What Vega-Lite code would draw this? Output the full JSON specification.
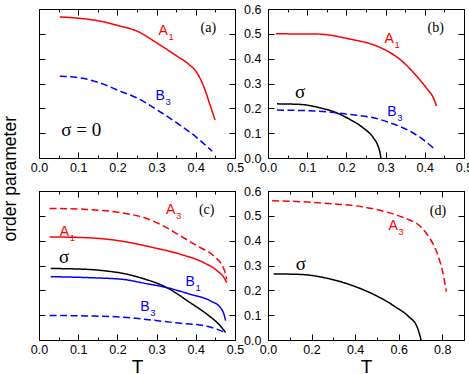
{
  "$schema": "https://vega.github.io/schema/vega-lite/v6.json",
  "padding": {"left": 2, "top": 2, "right": 5, "bottom": 2},
  "background": "white",
  "title": {"text": "order parameter", "orient": "left", "anchor": "middle", "font": "Liberation Sans", "fontSize": 17.5, "fontWeight": "normal", "color": "black", "offset": 10, "dx": 11},
  "columns": 2,
  "spacing": {"row": 33, "column": 33},
  "bounds": "flush",
  "config": {
    "view": {"stroke": "black", "strokeWidth": 1},
    "line": {"interpolate": "monotone", "strokeWidth": 1.5},
    "axis": {"grid": false, "domainColor": "black", "tickColor": "black", "labelColor": "black", "labelFont": "Liberation Sans", "labelFontSize": 12.5, "labelFlush": false, "labelOverlap": false, "titleFont": "Liberation Sans", "titleFontWeight": "normal", "titleColor": "black", "titleFontSize": 19, "titlePadding": 2, "labelPadding": 9},
    "axisY": {"labelPadding": 13}
  },
  "datasets": {
    "lines": [
      {"p": "a", "s": "A1", "T": 0.053, "v": 0.568},
      {"p": "a", "s": "A1", "T": 0.10, "v": 0.563},
      {"p": "a", "s": "A1", "T": 0.156, "v": 0.551},
      {"p": "a", "s": "A1", "T": 0.207, "v": 0.531},
      {"p": "a", "s": "A1", "T": 0.25, "v": 0.511},
      {"p": "a", "s": "A1", "T": 0.30, "v": 0.464},
      {"p": "a", "s": "A1", "T": 0.352, "v": 0.41},
      {"p": "a", "s": "A1", "T": 0.38, "v": 0.38},
      {"p": "a", "s": "A1", "T": 0.403, "v": 0.343},
      {"p": "a", "s": "A1", "T": 0.42, "v": 0.289},
      {"p": "a", "s": "A1", "T": 0.435, "v": 0.22},
      {"p": "a", "s": "A1", "T": 0.449, "v": 0.153},
      {"p": "a", "s": "B3", "T": 0.053, "v": 0.329},
      {"p": "a", "s": "B3", "T": 0.104, "v": 0.323},
      {"p": "a", "s": "B3", "T": 0.156, "v": 0.302},
      {"p": "a", "s": "B3", "T": 0.207, "v": 0.269},
      {"p": "a", "s": "B3", "T": 0.25, "v": 0.242},
      {"p": "a", "s": "B3", "T": 0.30, "v": 0.195},
      {"p": "a", "s": "B3", "T": 0.352, "v": 0.141},
      {"p": "a", "s": "B3", "T": 0.399, "v": 0.087},
      {"p": "a", "s": "B3", "T": 0.442, "v": 0.027},

      {"p": "b", "s": "A1", "T": 0.02, "v": 0.50},
      {"p": "b", "s": "A1", "T": 0.125, "v": 0.499},
      {"p": "b", "s": "A1", "T": 0.209, "v": 0.479},
      {"p": "b", "s": "A1", "T": 0.286, "v": 0.445},
      {"p": "b", "s": "A1", "T": 0.336, "v": 0.398},
      {"p": "b", "s": "A1", "T": 0.379, "v": 0.33},
      {"p": "b", "s": "A1", "T": 0.405, "v": 0.28},
      {"p": "b", "s": "A1", "T": 0.421, "v": 0.245},
      {"p": "b", "s": "A1", "T": 0.43, "v": 0.209},
      {"p": "b", "s": "sig", "T": 0.023, "v": 0.218},
      {"p": "b", "s": "sig", "T": 0.08, "v": 0.216},
      {"p": "b", "s": "sig", "T": 0.133, "v": 0.202},
      {"p": "b", "s": "sig", "T": 0.175, "v": 0.182},
      {"p": "b", "s": "sig", "T": 0.209, "v": 0.155},
      {"p": "b", "s": "sig", "T": 0.243, "v": 0.121},
      {"p": "b", "s": "sig", "T": 0.269, "v": 0.081},
      {"p": "b", "s": "sig", "T": 0.281, "v": 0.047},
      {"p": "b", "s": "sig", "T": 0.286, "v": 0.02},
      {"p": "b", "s": "sig", "T": 0.288, "v": 0.0},
      {"p": "b", "s": "B3", "T": 0.023, "v": 0.193},
      {"p": "b", "s": "B3", "T": 0.125, "v": 0.189},
      {"p": "b", "s": "B3", "T": 0.209, "v": 0.175},
      {"p": "b", "s": "B3", "T": 0.269, "v": 0.162},
      {"p": "b", "s": "B3", "T": 0.311, "v": 0.142},
      {"p": "b", "s": "B3", "T": 0.362, "v": 0.108},
      {"p": "b", "s": "B3", "T": 0.396, "v": 0.074},
      {"p": "b", "s": "B3", "T": 0.425, "v": 0.036},

      {"p": "c", "s": "A3", "T": 0.027, "v": 0.530},
      {"p": "c", "s": "A3", "T": 0.121, "v": 0.526},
      {"p": "c", "s": "A3", "T": 0.207, "v": 0.513},
      {"p": "c", "s": "A3", "T": 0.267, "v": 0.493},
      {"p": "c", "s": "A3", "T": 0.309, "v": 0.466},
      {"p": "c", "s": "A3", "T": 0.361, "v": 0.419},
      {"p": "c", "s": "A3", "T": 0.403, "v": 0.379},
      {"p": "c", "s": "A3", "T": 0.446, "v": 0.338},
      {"p": "c", "s": "A3", "T": 0.472, "v": 0.285},
      {"p": "c", "s": "A3", "T": 0.479, "v": 0.244},
      {"p": "c", "s": "A1", "T": 0.027, "v": 0.415},
      {"p": "c", "s": "A1", "T": 0.121, "v": 0.412},
      {"p": "c", "s": "A1", "T": 0.207, "v": 0.399},
      {"p": "c", "s": "A1", "T": 0.292, "v": 0.372},
      {"p": "c", "s": "A1", "T": 0.361, "v": 0.345},
      {"p": "c", "s": "A1", "T": 0.421, "v": 0.311},
      {"p": "c", "s": "A1", "T": 0.455, "v": 0.278},
      {"p": "c", "s": "A1", "T": 0.472, "v": 0.251},
      {"p": "c", "s": "A1", "T": 0.479, "v": 0.231},
      {"p": "c", "s": "sig", "T": 0.03, "v": 0.288},
      {"p": "c", "s": "sig", "T": 0.128, "v": 0.284},
      {"p": "c", "s": "sig", "T": 0.171, "v": 0.278},
      {"p": "c", "s": "sig", "T": 0.215, "v": 0.268},
      {"p": "c", "s": "sig", "T": 0.26, "v": 0.25},
      {"p": "c", "s": "sig", "T": 0.326, "v": 0.211},
      {"p": "c", "s": "sig", "T": 0.386, "v": 0.15},
      {"p": "c", "s": "sig", "T": 0.429, "v": 0.103},
      {"p": "c", "s": "sig", "T": 0.463, "v": 0.056},
      {"p": "c", "s": "sig", "T": 0.476, "v": 0.03},
      {"p": "c", "s": "B1", "T": 0.03, "v": 0.255},
      {"p": "c", "s": "B1", "T": 0.128, "v": 0.251},
      {"p": "c", "s": "B1", "T": 0.215, "v": 0.244},
      {"p": "c", "s": "B1", "T": 0.267, "v": 0.229},
      {"p": "c", "s": "B1", "T": 0.326, "v": 0.211},
      {"p": "c", "s": "B1", "T": 0.386, "v": 0.184},
      {"p": "c", "s": "B1", "T": 0.438, "v": 0.157},
      {"p": "c", "s": "B1", "T": 0.463, "v": 0.13},
      {"p": "c", "s": "B1", "T": 0.472, "v": 0.103},
      {"p": "c", "s": "B1", "T": 0.476, "v": 0.078},
      {"p": "c", "s": "B3", "T": 0.027, "v": 0.099},
      {"p": "c", "s": "B3", "T": 0.121, "v": 0.097},
      {"p": "c", "s": "B3", "T": 0.215, "v": 0.092},
      {"p": "c", "s": "B3", "T": 0.29, "v": 0.08},
      {"p": "c", "s": "B3", "T": 0.344, "v": 0.07},
      {"p": "c", "s": "B3", "T": 0.429, "v": 0.055},
      {"p": "c", "s": "B3", "T": 0.476, "v": 0.03},

      {"p": "d", "s": "A3", "T": 0.019, "v": 0.561},
      {"p": "d", "s": "A3", "T": 0.15, "v": 0.557},
      {"p": "d", "s": "A3", "T": 0.305, "v": 0.548},
      {"p": "d", "s": "A3", "T": 0.429, "v": 0.537},
      {"p": "d", "s": "A3", "T": 0.537, "v": 0.517},
      {"p": "d", "s": "A3", "T": 0.63, "v": 0.49},
      {"p": "d", "s": "A3", "T": 0.692, "v": 0.463},
      {"p": "d", "s": "A3", "T": 0.738, "v": 0.416},
      {"p": "d", "s": "A3", "T": 0.777, "v": 0.349},
      {"p": "d", "s": "A3", "T": 0.80, "v": 0.282},
      {"p": "d", "s": "A3", "T": 0.819, "v": 0.195},
      {"p": "d", "s": "sig", "T": 0.026, "v": 0.266},
      {"p": "d", "s": "sig", "T": 0.15, "v": 0.264},
      {"p": "d", "s": "sig", "T": 0.274, "v": 0.248},
      {"p": "d", "s": "sig", "T": 0.382, "v": 0.221},
      {"p": "d", "s": "sig", "T": 0.491, "v": 0.181},
      {"p": "d", "s": "sig", "T": 0.584, "v": 0.134},
      {"p": "d", "s": "sig", "T": 0.646, "v": 0.094},
      {"p": "d", "s": "sig", "T": 0.684, "v": 0.054},
      {"p": "d", "s": "sig", "T": 0.703, "v": 0.0}
    ],
    "labels": [
      {"p": "a", "k": "ab", "s": "A1", "t": "A", "sub": "1", "T": 0.305, "v": 0.497},
      {"p": "a", "k": "ab", "s": "B3", "t": "B", "sub": "3", "T": 0.297, "v": 0.235},
      {"p": "a", "k": "sig", "s": "sig", "t": "σ = 0", "sub": "", "T": 0.057, "v": 0.087},
      {"p": "a", "k": "tag", "s": "sig", "t": "(a)", "sub": "", "T": 0.412, "v": 0.507},
      {"p": "b", "k": "ab", "s": "A1", "t": "A", "sub": "1", "T": 0.297, "v": 0.465},
      {"p": "b", "k": "ab", "s": "B3", "t": "B", "sub": "3", "T": 0.304, "v": 0.169},
      {"p": "b", "k": "sig", "s": "sig", "t": "σ", "sub": "", "T": 0.069, "v": 0.243},
      {"p": "b", "k": "tag", "s": "sig", "t": "(b)", "sub": "", "T": 0.407, "v": 0.506},
      {"p": "c", "k": "ab", "s": "A3", "t": "A", "sub": "3", "T": 0.324, "v": 0.506},
      {"p": "c", "k": "ab", "s": "A1", "t": "A", "sub": "1", "T": 0.053, "v": 0.419},
      {"p": "c", "k": "ab", "s": "B1", "t": "B", "sub": "1", "T": 0.374, "v": 0.217},
      {"p": "c", "k": "ab", "s": "B3", "t": "B", "sub": "3", "T": 0.258, "v": 0.117},
      {"p": "c", "k": "sig", "s": "sig", "t": "σ", "sub": "", "T": 0.051, "v": 0.311},
      {"p": "c", "k": "tag", "s": "sig", "t": "(c)", "sub": "", "T": 0.408, "v": 0.506},
      {"p": "d", "k": "ab", "s": "A3", "t": "A", "sub": "3", "T": 0.553, "v": 0.443},
      {"p": "d", "k": "sig", "s": "sig", "t": "σ", "sub": "", "T": 0.127, "v": 0.282},
      {"p": "d", "k": "tag", "s": "sig", "t": "(d)", "sub": "", "T": 0.743, "v": 0.503}
    ]
  },
  "concat": [
    {
      "width": 196, "height": 149,
      "resolve": {"axis": {"x": "independent", "y": "independent"}},
      "layer": [
        {"data": {"name": "lines"}, "transform": [{"filter": "datum.p == 'a'"}],
         "mark": {"type": "line"},
         "encoding": {
           "x": {"field": "T", "type": "quantitative", "scale": {"domain": [0, 0.5], "nice": false}, "axis": {"orient": "bottom", "values": [0, 0.1, 0.2, 0.3, 0.4, 0.5], "format": ".1f", "title": null, "tickSize": -6}},
           "y": {"field": "v", "type": "quantitative", "scale": {"domain": [0, 0.6], "nice": false}, "axis": {"orient": "left", "values": [0, 0.1, 0.2, 0.3, 0.4, 0.5, 0.6], "labels": false, "title": null, "tickSize": -6}},
           "color": {"field": "s", "type": "nominal", "scale": {"domain": ["A1", "A3", "B1", "B3", "sig"], "range": ["#ff0000", "#ff0000", "#0000ff", "#0000ff", "#000000"]}, "legend": null},
           "strokeDash": {"field": "s", "type": "nominal", "scale": {"domain": ["A1", "A3", "B1", "B3", "sig"], "range": [[1, 0], [7, 3.5], [1, 0], [7, 3.5], [1, 0]]}, "legend": null}}},
        {"data": {"name": "labels"}, "transform": [{"filter": "datum.p == 'a' && datum.k == 'ab'"}],
         "mark": {"type": "text", "font": "Liberation Sans", "fontSize": 14, "align": "left", "baseline": "alphabetic"},
         "encoding": {
           "x": {"field": "T", "type": "quantitative", "axis": {"orient": "top", "values": [0, 0.1, 0.2, 0.3, 0.4, 0.5], "labels": false, "title": null, "tickSize": -6}},
           "y": {"field": "v", "type": "quantitative", "axis": {"orient": "right", "values": [0, 0.1, 0.2, 0.3, 0.4, 0.5, 0.6], "labels": false, "title": null, "tickSize": -6}},
           "text": {"field": "t"},
           "color": {"field": "s", "type": "nominal", "legend": null}}},
        {"data": {"name": "labels"}, "transform": [{"filter": "datum.p == 'a' && datum.k == 'ab'"}],
         "mark": {"type": "text", "font": "Liberation Sans", "fontSize": 9.5, "align": "left", "baseline": "alphabetic", "dx": 10, "dy": 5},
         "encoding": {
           "x": {"field": "T", "type": "quantitative", "axis": {"orient": "bottom", "values": [0.05, 0.15, 0.25, 0.35, 0.45], "labels": false, "title": null, "tickSize": -3, "domain": false}},
           "y": {"field": "v", "type": "quantitative", "axis": null},
           "text": {"field": "sub"},
           "color": {"field": "s", "type": "nominal", "legend": null}}},
        {"data": {"name": "labels"}, "transform": [{"filter": "datum.p == 'a' && datum.k == 'sig'"}],
         "mark": {"type": "text", "font": "Liberation Serif", "fontSize": 19, "align": "left", "baseline": "alphabetic", "color": "black"},
         "encoding": {
           "x": {"field": "T", "type": "quantitative", "axis": {"orient": "top", "values": [0.05, 0.15, 0.25, 0.35, 0.45], "labels": false, "title": null, "tickSize": -3, "domain": false}},
           "y": {"field": "v", "type": "quantitative", "axis": null},
           "text": {"field": "t"}}},
        {"data": {"name": "labels"}, "transform": [{"filter": "datum.p == 'a' && datum.k == 'tag'"}],
         "mark": {"type": "text", "font": "Liberation Serif", "fontSize": 14, "align": "left", "baseline": "alphabetic", "color": "black"},
         "encoding": {
           "x": {"field": "T", "type": "quantitative", "axis": null},
           "y": {"field": "v", "type": "quantitative", "axis": null},
           "text": {"field": "t"}}}
      ]
    },
    {
      "width": 196, "height": 149,
      "resolve": {"axis": {"x": "independent", "y": "independent"}},
      "layer": [
        {"data": {"name": "lines"}, "transform": [{"filter": "datum.p == 'b'"}],
         "mark": {"type": "line"},
         "encoding": {
           "x": {"field": "T", "type": "quantitative", "scale": {"domain": [0, 0.5], "nice": false}, "axis": {"orient": "bottom", "values": [0, 0.1, 0.2, 0.3, 0.4, 0.5], "format": ".1f", "title": null, "tickSize": -6}},
           "y": {"field": "v", "type": "quantitative", "scale": {"domain": [0, 0.6], "nice": false}, "axis": {"orient": "left", "values": [0, 0.1, 0.2, 0.3, 0.4, 0.5, 0.6], "format": ".1f", "title": null, "tickSize": -6}},
           "color": {"field": "s", "type": "nominal", "scale": {"domain": ["A1", "A3", "B1", "B3", "sig"], "range": ["#ff0000", "#ff0000", "#0000ff", "#0000ff", "#000000"]}, "legend": null},
           "strokeDash": {"field": "s", "type": "nominal", "scale": {"domain": ["A1", "A3", "B1", "B3", "sig"], "range": [[1, 0], [7, 3.5], [1, 0], [7, 3.5], [1, 0]]}, "legend": null}}},
        {"data": {"name": "labels"}, "transform": [{"filter": "datum.p == 'b' && datum.k == 'ab'"}],
         "mark": {"type": "text", "font": "Liberation Sans", "fontSize": 14, "align": "left", "baseline": "alphabetic"},
         "encoding": {
           "x": {"field": "T", "type": "quantitative", "axis": {"orient": "top", "values": [0, 0.1, 0.2, 0.3, 0.4, 0.5], "labels": false, "title": null, "tickSize": -6}},
           "y": {"field": "v", "type": "quantitative", "axis": {"orient": "right", "values": [0, 0.1, 0.2, 0.3, 0.4, 0.5, 0.6], "labels": false, "title": null, "tickSize": -6}},
           "text": {"field": "t"},
           "color": {"field": "s", "type": "nominal", "legend": null}}},
        {"data": {"name": "labels"}, "transform": [{"filter": "datum.p == 'b' && datum.k == 'ab'"}],
         "mark": {"type": "text", "font": "Liberation Sans", "fontSize": 9.5, "align": "left", "baseline": "alphabetic", "dx": 10, "dy": 5},
         "encoding": {
           "x": {"field": "T", "type": "quantitative", "axis": {"orient": "bottom", "values": [0.05, 0.15, 0.25, 0.35, 0.45], "labels": false, "title": null, "tickSize": -3, "domain": false}},
           "y": {"field": "v", "type": "quantitative", "axis": null},
           "text": {"field": "sub"},
           "color": {"field": "s", "type": "nominal", "legend": null}}},
        {"data": {"name": "labels"}, "transform": [{"filter": "datum.p == 'b' && datum.k == 'sig'"}],
         "mark": {"type": "text", "font": "Liberation Serif", "fontSize": 19, "align": "left", "baseline": "alphabetic", "color": "black"},
         "encoding": {
           "x": {"field": "T", "type": "quantitative", "axis": {"orient": "top", "values": [0.05, 0.15, 0.25, 0.35, 0.45], "labels": false, "title": null, "tickSize": -3, "domain": false}},
           "y": {"field": "v", "type": "quantitative", "axis": null},
           "text": {"field": "t"}}},
        {"data": {"name": "labels"}, "transform": [{"filter": "datum.p == 'b' && datum.k == 'tag'"}],
         "mark": {"type": "text", "font": "Liberation Serif", "fontSize": 14, "align": "left", "baseline": "alphabetic", "color": "black"},
         "encoding": {
           "x": {"field": "T", "type": "quantitative", "axis": null},
           "y": {"field": "v", "type": "quantitative", "axis": null},
           "text": {"field": "t"}}}
      ]
    },
    {
      "width": 196, "height": 149,
      "resolve": {"axis": {"x": "independent", "y": "independent"}},
      "layer": [
        {"data": {"name": "lines"}, "transform": [{"filter": "datum.p == 'c'"}],
         "mark": {"type": "line"},
         "encoding": {
           "x": {"field": "T", "type": "quantitative", "scale": {"domain": [0, 0.5], "nice": false}, "axis": {"orient": "bottom", "values": [0, 0.1, 0.2, 0.3, 0.4, 0.5], "format": ".1f", "title": "T", "tickSize": -6}},
           "y": {"field": "v", "type": "quantitative", "scale": {"domain": [0, 0.6], "nice": false}, "axis": {"orient": "left", "values": [0, 0.1, 0.2, 0.3, 0.4, 0.5, 0.6], "labels": false, "title": null, "tickSize": -6}},
           "color": {"field": "s", "type": "nominal", "scale": {"domain": ["A1", "A3", "B1", "B3", "sig"], "range": ["#ff0000", "#ff0000", "#0000ff", "#0000ff", "#000000"]}, "legend": null},
           "strokeDash": {"field": "s", "type": "nominal", "scale": {"domain": ["A1", "A3", "B1", "B3", "sig"], "range": [[1, 0], [7, 3.5], [1, 0], [7, 3.5], [1, 0]]}, "legend": null}}},
        {"data": {"name": "labels"}, "transform": [{"filter": "datum.p == 'c' && datum.k == 'ab'"}],
         "mark": {"type": "text", "font": "Liberation Sans", "fontSize": 14, "align": "left", "baseline": "alphabetic"},
         "encoding": {
           "x": {"field": "T", "type": "quantitative", "axis": {"orient": "top", "values": [0, 0.1, 0.2, 0.3, 0.4, 0.5], "labels": false, "title": null, "tickSize": -6}},
           "y": {"field": "v", "type": "quantitative", "axis": {"orient": "right", "values": [0, 0.1, 0.2, 0.3, 0.4, 0.5, 0.6], "labels": false, "title": null, "tickSize": -6}},
           "text": {"field": "t"},
           "color": {"field": "s", "type": "nominal", "legend": null}}},
        {"data": {"name": "labels"}, "transform": [{"filter": "datum.p == 'c' && datum.k == 'ab'"}],
         "mark": {"type": "text", "font": "Liberation Sans", "fontSize": 9.5, "align": "left", "baseline": "alphabetic", "dx": 10, "dy": 5},
         "encoding": {
           "x": {"field": "T", "type": "quantitative", "axis": {"orient": "bottom", "values": [0.05, 0.15, 0.25, 0.35, 0.45], "labels": false, "title": null, "tickSize": -3, "domain": false}},
           "y": {"field": "v", "type": "quantitative", "axis": null},
           "text": {"field": "sub"},
           "color": {"field": "s", "type": "nominal", "legend": null}}},
        {"data": {"name": "labels"}, "transform": [{"filter": "datum.p == 'c' && datum.k == 'sig'"}],
         "mark": {"type": "text", "font": "Liberation Serif", "fontSize": 19, "align": "left", "baseline": "alphabetic", "color": "black"},
         "encoding": {
           "x": {"field": "T", "type": "quantitative", "axis": {"orient": "top", "values": [0.05, 0.15, 0.25, 0.35, 0.45], "labels": false, "title": null, "tickSize": -3, "domain": false}},
           "y": {"field": "v", "type": "quantitative", "axis": null},
           "text": {"field": "t"}}},
        {"data": {"name": "labels"}, "transform": [{"filter": "datum.p == 'c' && datum.k == 'tag'"}],
         "mark": {"type": "text", "font": "Liberation Serif", "fontSize": 14, "align": "left", "baseline": "alphabetic", "color": "black"},
         "encoding": {
           "x": {"field": "T", "type": "quantitative", "axis": null},
           "y": {"field": "v", "type": "quantitative", "axis": null},
           "text": {"field": "t"}}}
      ]
    },
    {
      "width": 196, "height": 149,
      "resolve": {"axis": {"x": "independent", "y": "independent"}},
      "layer": [
        {"data": {"name": "lines"}, "transform": [{"filter": "datum.p == 'd'"}],
         "mark": {"type": "line"},
         "encoding": {
           "x": {"field": "T", "type": "quantitative", "scale": {"domain": [0, 0.9], "nice": false}, "axis": {"orient": "bottom", "values": [0, 0.2, 0.4, 0.6, 0.8], "format": ".1f", "title": "T", "tickSize": -6}},
           "y": {"field": "v", "type": "quantitative", "scale": {"domain": [0, 0.6], "nice": false}, "axis": {"orient": "left", "values": [0, 0.1, 0.2, 0.3, 0.4, 0.5, 0.6], "format": ".1f", "title": null, "tickSize": -6}},
           "color": {"field": "s", "type": "nominal", "scale": {"domain": ["A1", "A3", "B1", "B3", "sig"], "range": ["#ff0000", "#ff0000", "#0000ff", "#0000ff", "#000000"]}, "legend": null},
           "strokeDash": {"field": "s", "type": "nominal", "scale": {"domain": ["A1", "A3", "B1", "B3", "sig"], "range": [[1, 0], [7, 3.5], [1, 0], [7, 3.5], [1, 0]]}, "legend": null}}},
        {"data": {"name": "labels"}, "transform": [{"filter": "datum.p == 'd' && datum.k == 'ab'"}],
         "mark": {"type": "text", "font": "Liberation Sans", "fontSize": 14, "align": "left", "baseline": "alphabetic"},
         "encoding": {
           "x": {"field": "T", "type": "quantitative", "axis": {"orient": "top", "values": [0, 0.2, 0.4, 0.6, 0.8], "labels": false, "title": null, "tickSize": -6}},
           "y": {"field": "v", "type": "quantitative", "axis": {"orient": "right", "values": [0, 0.1, 0.2, 0.3, 0.4, 0.5, 0.6], "labels": false, "title": null, "tickSize": -6}},
           "text": {"field": "t"},
           "color": {"field": "s", "type": "nominal", "legend": null}}},
        {"data": {"name": "labels"}, "transform": [{"filter": "datum.p == 'd' && datum.k == 'ab'"}],
         "mark": {"type": "text", "font": "Liberation Sans", "fontSize": 9.5, "align": "left", "baseline": "alphabetic", "dx": 10, "dy": 5},
         "encoding": {
           "x": {"field": "T", "type": "quantitative", "axis": {"orient": "bottom", "values": [0.1, 0.3, 0.5, 0.7], "labels": false, "title": null, "tickSize": -3, "domain": false}},
           "y": {"field": "v", "type": "quantitative", "axis": null},
           "text": {"field": "sub"},
           "color": {"field": "s", "type": "nominal", "legend": null}}},
        {"data": {"name": "labels"}, "transform": [{"filter": "datum.p == 'd' && datum.k == 'sig'"}],
         "mark": {"type": "text", "font": "Liberation Serif", "fontSize": 19, "align": "left", "baseline": "alphabetic", "color": "black"},
         "encoding": {
           "x": {"field": "T", "type": "quantitative", "axis": {"orient": "top", "values": [0.1, 0.3, 0.5, 0.7], "labels": false, "title": null, "tickSize": -3, "domain": false}},
           "y": {"field": "v", "type": "quantitative", "axis": null},
           "text": {"field": "t"}}},
        {"data": {"name": "labels"}, "transform": [{"filter": "datum.p == 'd' && datum.k == 'tag'"}],
         "mark": {"type": "text", "font": "Liberation Serif", "fontSize": 14, "align": "left", "baseline": "alphabetic", "color": "black"},
         "encoding": {
           "x": {"field": "T", "type": "quantitative", "axis": null},
           "y": {"field": "v", "type": "quantitative", "axis": null},
           "text": {"field": "t"}}}
      ]
    }
  ]
}
